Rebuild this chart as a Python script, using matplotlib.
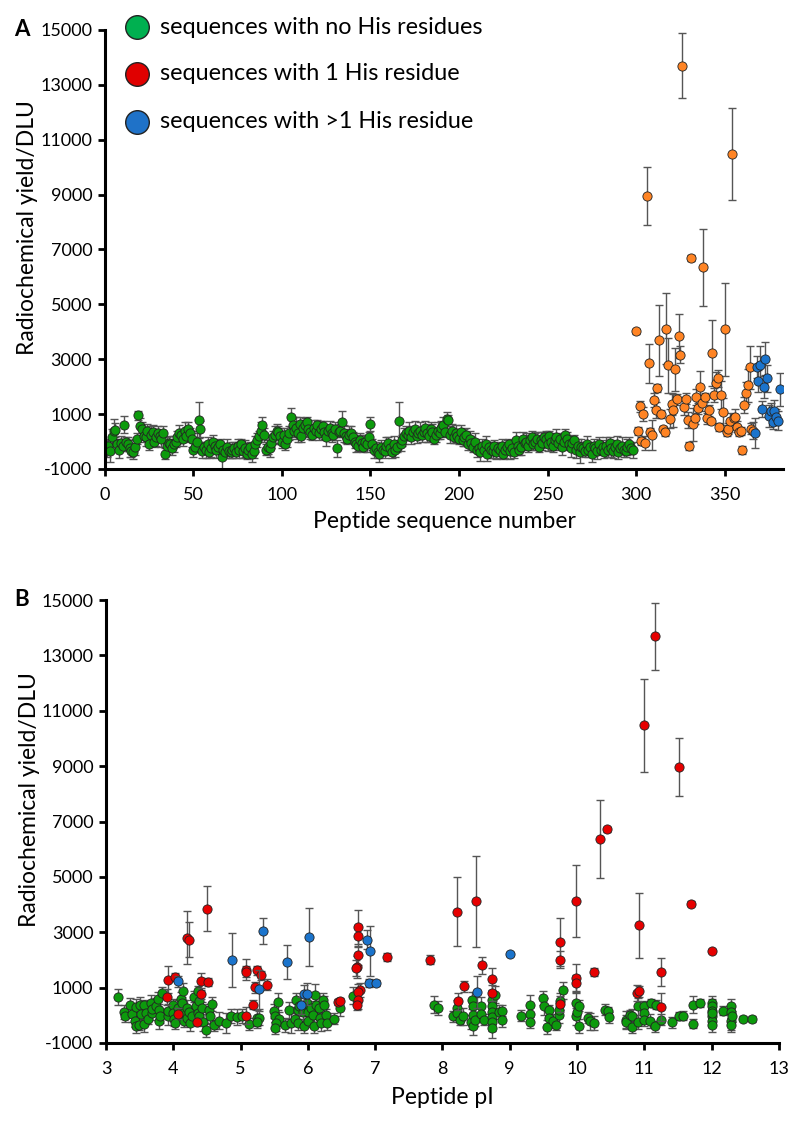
import matplotlib
matplotlib.use("Agg")
import matplotlib.pyplot as plt
from matplotlib.lines import Line2D

plt.rcParams['font.family'] = ['Lato', 'DejaVu Sans']
plt.rcParams['axes.unicode_minus'] = False

# ---------------- Panel A data ----------------
# green: sequences 1..298 (no His)
a_green_val = [
    -250, -150, -350, 150, 380, 420, -100, -300, -50, -150,
    620, -20, -100, -250, -350, -400, -200, 100, 950, 550,
    450, 200, 150, 400, -100, 250, 350, 0, 150, 300,
    200, 100, 300, -450, -150, -50, -100, -250, -100, 0,
    150, 300, 250, 100, 400, 200, 450, 300, 100, -300,
    -200, 0, 780, 450, -350, -200, -300, -100, -400, -250,
    0, -150, -300, -200, -100, -550, -300, -400, -200, -350,
    -400, -300, -250, -400, -150, -300, -100, -350, -250, -450,
    -300, -200, -450, -350, -100, 50, 200, 400, 600, 250,
    -300, -200, -250, -50, 150, 250, 400, 350, 200, 0,
    250, -100, 100, 300, 880, 600, 400, 500, 300, 650,
    200, 500, 600, 700, 450, 350, 250, 500, 400, 600,
    300, 450, 550, 350, 150, 400, 500, 300, 250, 450,
    -250, 350, 400, 710, 300, 200, 100, 250, 300, 150,
    0, -100, -150, 50, -50, -200, 0, -100, 150, 630,
    -100, -300, -250, -400, -450, -200, -300, -350, -150, -50,
    -250, -400, -100, -300, -200, 745, -100, 50, 200, 300,
    250, 400, 150, 350, 450, 200, 300, 400, 250, 350,
    500, 300, 200, 450, 350, 100, 250, 400, 300, 500,
    600, 350, 820, 780, 250, 400, 150, 300, 200, 100,
    350, 50, 150, 250, -100, 100, -50, -200, 0, -300,
    -250, -400, -150, -300, -100, -450, -200, -300, -350, -150,
    -400, -250, -300, -150, -450, -300, -200, -100, -350, -250,
    -400, 50, -150, -300, -200, 100, -50, 0, -150, 50,
    150, -100, 0, 100, -200, 50, -50, 150, 100, -100,
    200, 0, -150, 50, 150, -50, 100, -200, 0, 250,
    100, -100, -250, -50, 50, -300, -150, -400, -200, -250,
    -350, -100, -300, -200, -450, -150, -250, -350, -100, -300,
    -200, -400, -150, -300, -50, -250, -350, -200, -100, -400,
    -250, -150, -300, -350, -200, -100, -250, -300,
]
a_green_err = [
    300, 250, 400, 300, 450, 250, 200, 300, 250, 200,
    300, 200, 250, 300, 200, 250, 300, 200, 150, 300,
    250, 200, 300, 250, 200, 300, 250, 200, 300, 250,
    200, 300, 250, 200, 300, 250, 200, 250, 300, 200,
    250, 300, 200, 250, 300, 200, 250, 200, 300, 250,
    200, 300, 650, 300, 250, 200, 300, 250, 200, 300,
    250, 200, 300, 250, 200, 450, 250, 200, 300, 250,
    200, 300, 250, 200, 250, 300, 200, 250, 300, 200,
    250, 200, 300, 250, 300, 250, 200, 300, 300, 250,
    200, 250, 300, 200, 250, 300, 250, 200, 300, 250,
    250, 200, 300, 250, 350, 300, 250, 400, 300, 250,
    200, 300, 250, 200, 300, 250, 200, 300, 250, 200,
    250, 300, 200, 250, 300, 200, 250, 300, 200, 250,
    300, 200, 250, 400, 300, 250, 200, 300, 250, 200,
    250, 300, 200, 250, 300, 200, 250, 300, 200, 250,
    200, 300, 250, 200, 300, 250, 200, 250, 300, 200,
    250, 200, 300, 250, 200, 700, 250, 200, 300, 250,
    200, 300, 250, 200, 300, 250, 200, 300, 250, 200,
    250, 300, 200, 250, 300, 200, 250, 300, 200, 250,
    300, 200, 250, 200, 300, 250, 200, 300, 250, 200,
    250, 200, 300, 250, 200, 300, 250, 200, 300, 250,
    200, 300, 250, 200, 300, 250, 200, 300, 250, 200,
    250, 200, 300, 250, 200, 300, 250, 200, 300, 250,
    200, 300, 250, 200, 300, 250, 200, 300, 250, 200,
    250, 200, 300, 250, 200, 300, 250, 200, 300, 250,
    200, 300, 250, 200, 300, 250, 200, 300, 250, 200,
    250, 200, 300, 250, 200, 300, 250, 400, 300, 250,
    200, 300, 250, 200, 300, 250, 200, 300, 250, 200,
    250, 200, 300, 250, 200, 300, 250, 200, 300, 250,
    200, 300, 250, 200, 300, 250, 200, 300,
]
a_green_seq = list(range(1, len(a_green_val) + 1))

# orange: sequences with 1 His (300..366)
a_orange_seq = list(range(300, 367))
a_orange_val = [
    4018, 382, 1291, 18, 1011, -55, 8952, 2844, 345, 247,
    1509, 1145, 1956, 3691, 989, 465, 345, 4116, 2771, 829,
    1353, 1145, 2625, 1535, 3836, 3171, 13702, 1255, 1556, 782,
    -153, 6684, 625, 855, 1618, 1207, 1982, 1411, 6356, 1607,
    855, 1145, 745, 3218, 1691, 2116, 2298, 516, 1702, 1084,
    4091, 345, 465, 734, 10480, 855, 891, 538, 345, 393,
    -320, 1327, 1775, 2055, 2698, 465, 393,
]
a_orange_err = [
    100, 150, 200, 150, 250, 250, 1050, 700, 150, 550,
    250, 300, 150, 1300, 150, 100, 150, 1300, 1000, 350,
    400, 600, 800, 200, 800, 300, 1200, 300, 200, 300,
    150, 100, 600, 200, 300, 200, 600, 300, 1400, 150,
    200, 200, 100, 1200, 250, 400, 300, 150, 500, 500,
    1700, 150, 200, 300, 1680, 150, 300, 200, 150, 150,
    150, 300, 400, 600, 800, 200, 300,
]
# blue: sequences with >1 His (367..381)
a_blue_seq = list(range(367, 382))
a_blue_val = [320, 2720, 2189, 2771, 1193, 1971, 3011, 2298, 927, 1120,
              709, 1120, 902, 756, 1909]
a_blue_err = [550, 400, 400, 700, 300, 400, 600, 500, 400, 300,
              250, 400, 300, 350, 600]

# ---------------- Panel B data ----------------
b_green_pi = [
    3.18, 3.27, 3.28, 3.35, 3.39, 3.43, 3.44, 3.44, 3.49, 3.50,
    3.52, 3.56, 3.57, 3.59, 3.62, 3.67, 3.68, 3.69, 3.75, 3.78,
    3.79, 3.79, 3.80, 3.83, 3.92, 3.92, 4.00, 4.00, 4.01, 4.03,
    4.07, 4.12, 4.13, 4.14, 4.14, 4.16, 4.20, 4.21, 4.24, 4.25,
    4.28, 4.31, 4.34, 4.36, 4.37, 4.38, 4.38, 4.42, 4.44, 4.49,
    4.53, 4.55, 4.58, 4.61, 4.68, 4.79, 4.86, 4.94, 5.02, 5.12,
    5.24, 5.28, 5.24, 5.50, 5.55, 5.51, 5.57, 5.52, 5.51, 5.66,
    5.72, 5.75, 5.81, 5.83, 5.85, 5.85, 5.87, 5.93, 5.95, 5.99,
    6.00, 6.00, 6.04, 6.07, 6.09, 6.10, 6.12, 6.17, 6.18, 6.20,
    6.23, 6.24, 6.27, 6.28, 6.39, 6.48, 6.67,
    7.87, 7.94, 8.16, 8.22, 8.22, 8.26, 8.31, 8.42, 8.44, 8.45,
    8.45, 8.45, 8.49, 8.57, 8.58, 8.62, 8.74, 8.74, 8.74, 8.74,
    8.74, 8.74, 8.78, 8.84, 8.89, 8.89, 9.17, 9.30, 9.30, 9.30,
    9.50, 9.51, 9.55, 9.59, 9.59, 9.65, 9.69, 9.74, 9.74, 9.75,
    9.79, 9.98, 9.99, 10.00, 10.03, 10.03, 10.17, 10.20, 10.25, 10.42,
    10.46, 10.47, 10.73, 10.73, 10.79, 10.82, 10.82, 10.90, 10.90, 10.99,
    10.99, 10.99, 11.09, 11.10, 11.16, 11.17, 11.25, 11.42, 11.51, 11.58,
    11.72, 11.72, 11.83, 12.00, 12.00, 12.00, 12.00, 12.00, 12.00, 12.00,
    12.17, 12.29, 12.29, 12.29, 12.29, 12.31, 12.47, 12.60,
]
b_green_val = [
    663, 109, -36, 386, 60, -217, 289, -397, -337, 362,
    60, 362, -301, 84, -132, 446, 84, 229, 325, 591,
    205, -205, -36, 808, -36, 145, 386, 84, -132, -277,
    265, 591, 446, 868, 84, -217, 265, -96, 109, -277,
    -36, 663, 325, 84, 868, 506, -36, 265, -253, -518,
    205, -12, 410, -361, -193, -277, -36, -60, -36, -313,
    -96, -96, -253, 157, 494, -36, -132, -277, -458, -361,
    181, -277, -132, 566, 181, -277, 325, 109, -397, 446,
    109, -217, 265, 24, -397, 747, 386, 265, -96, -277,
    542, 386, 24, -277, -132, 265, 711,
    386, 265, -36, 265, 84, -156, -36, -253, 542, 325,
    24, -397, -181, 350, 60, -156, 566, 325, 109, -60,
    -253, -458, 747, 109, 169, -156, -12, 386, 60, -253,
    615, 325, -434, 181, -96, -217, -337, 24, 205, 506,
    904, 446, -36, 109, 350, -397, -96, -217, -277, 205,
    145, -72, -156, -253, 0, -12, -434, 325, -253, 325,
    84, -181, -217, 446, -397, 386, -156, -253, -36, -12,
    386, -301, 446, 446, 325, 145, -36, -217, -337, 84,
    169, 350, 109, -217, -361, -36, -120, -132,
]
b_green_err = [
    300, 250, 200, 250, 300, 200, 300, 250, 200, 300,
    250, 200, 300, 250, 200, 300, 250, 200, 300, 250,
    200, 300, 250, 200, 300, 250, 200, 300, 250, 200,
    300, 250, 200, 300, 250, 200, 300, 250, 200, 300,
    250, 200, 300, 250, 200, 300, 250, 200, 300, 250,
    200, 300, 250, 200, 300, 350, 250, 300, 250, 200,
    300, 250, 200, 250, 300, 200, 250, 300, 200, 250,
    300, 350, 200, 250, 300, 250, 200, 300, 250, 350,
    300, 200, 250, 300, 250, 400, 300, 250, 200, 300,
    250, 300, 200, 250, 200, 300, 300,
    300, 250, 200, 300, 250, 200, 300, 250, 300, 350,
    250, 300, 200, 300, 250, 200, 300, 250, 300, 250,
    300, 350, 300, 250, 200, 250, 200, 350, 250, 200,
    250, 300, 250, 200, 300, 250, 200, 300, 250, 300,
    300, 350, 300, 250, 200, 250, 200, 300, 250, 200,
    150, 200, 300, 250, 200, 250, 200, 300, 250, 200,
    250, 200, 250, 150, 200, 150, 200, 200, 150, 150,
    300, 150, 150, 250, 250, 300, 250, 200, 250, 200,
    150, 250, 200, 300, 250, 200, 100, 100,
]

b_red_pi = [
    4.50, 4.20, 4.24, 3.92, 4.02, 3.91, 4.07, 4.41, 4.52, 4.41,
    4.35, 5.08, 5.08, 5.24, 5.30, 5.21, 5.18, 5.08, 5.40, 6.74,
    6.74, 6.75, 6.73, 6.71, 6.78, 6.74, 6.74, 6.73, 7.17, 7.82,
    6.45, 6.48, 8.22, 8.50, 8.23, 8.32, 8.59, 8.74, 8.74, 9.75,
    9.75, 9.75, 9.99, 9.99, 9.99, 10.25, 10.34, 10.45, 10.99, 11.16,
    11.51, 11.70, 12.00, 10.92, 10.89, 10.92, 11.25, 11.25,
]
b_red_val = [
    3856, 2796, 2736, 1290, 1386, 663, 60, 1229, 1193, 771,
    -253, 1651, 1567, 1627, 1446, 1012, 386, -12, 1109, 3193,
    2856, 2169, 1735, 1711, 904, 844, 542, 386, 2097, 2012,
    482, 506, 3736, 4121, 506, 1049, 1808, 1326, 808, 2651,
    2012, 410, 4145, 1350, 1169, 1567, 6375, 6712, 10472, 13689,
    8965, 4037, 2338, 3254, 808, 868, 1555, 289,
]
b_red_err = [
    800, 960, 640, 500, 150, 300, 200, 300, 150, 200,
    150, 370, 200, 160, 170, 200, 150, 300, 200, 600,
    400, 350, 400, 300, 250, 300, 300, 200, 150, 150,
    120, 120, 1250, 1650, 300, 200, 300, 400, 300, 870,
    300, 300, 1300, 500, 300, 150, 1400, 100, 1690, 1200,
    1050, 100, 50, 1170, 300, 200, 500, 500,
]

b_blue_pi = [4.07, 4.87, 5.34, 5.69, 6.01, 5.27, 5.94, 5.99, 5.90, 6.88,
             6.92, 6.91, 7.01, 9.00, 8.51]
b_blue_val = [1229, 2000, 3037, 1928, 2820, 940, 783, 759, 362, 2736,
              2314, 1157, 1169, 2217, 832]
b_blue_err = [200, 980, 470, 600, 1050, 700, 300, 400, 300, 350,
              900, 150, 100, 80, 580]

# ---------------- styling ----------------
GREEN = '#0d9a0d'
ORANGE = '#ff8424'
RED = '#e60000'
BLUE = '#1b74cc'
LEG_GREEN = '#00b050'
LEG_RED = '#e00000'
LEG_BLUE = '#1f72c8'
ERRC = '#555555'
MS = 44

fig = plt.figure(figsize=(8.0, 11.3), dpi=100)
axA = fig.add_axes([0.131, 0.585, 0.848, 0.3885])
axB = fig.add_axes([0.1325, 0.077, 0.841, 0.392])


def draw(ax, x, y, e, color, z):
    ax.errorbar(x, y, yerr=e, fmt='none', ecolor=ERRC, elinewidth=1.0,
                capsize=3.0, capthick=1.0, zorder=z)
    ax.scatter(x, y, s=MS, c=color, edgecolors='#222222', linewidths=0.6,
               zorder=z + 0.5)


draw(axA, a_green_seq, a_green_val, a_green_err, GREEN, 2)
draw(axA, a_orange_seq, a_orange_val, a_orange_err, ORANGE, 3)
draw(axA, a_blue_seq, a_blue_val, a_blue_err, BLUE, 4)

draw(axB, b_green_pi, b_green_val, b_green_err, GREEN, 2)
draw(axB, b_red_pi, b_red_val, b_red_err, RED, 3)
draw(axB, b_blue_pi, b_blue_val, b_blue_err, BLUE, 4)

yticks = list(range(-1000, 15001, 2000))
for ax in (axA, axB):
    ax.set_ylim(-1000, 15000)
    ax.set_yticks(yticks)
    for s in ('top', 'right'):
        ax.spines[s].set_visible(False)
    for s in ('left', 'bottom'):
        ax.spines[s].set_linewidth(2.2)
    ax.tick_params(axis='both', direction='out', length=5, width=2.0,
                   labelsize=13, pad=4)
    ax.tick_params(axis='x', pad=8)
    ax.set_ylabel('Radiochemical yield/DLU', fontsize=16.5)
    ax.yaxis.set_label_coords(-0.098, 0.55)

axA.set_xlim(0, 383)
axA.set_xticks(list(range(0, 351, 50)))
axA.set_xlabel('Peptide sequence number', fontsize=16.5, labelpad=6)

axB.set_xlim(3, 13)
axB.set_xticks(list(range(3, 14)))
axB.set_xlabel('Peptide pI', fontsize=16.5, labelpad=7)

# panel letters
fig.text(0.027, 1 - 30 / 1130, 'A', fontsize=16, fontweight='bold',
         ha='center', va='center')
fig.text(0.027, 1 - 600 / 1130, 'B', fontsize=16, fontweight='bold',
         ha='center', va='center')

# legend (manual)
leg_labels = ['sequences with no His residues', 'sequences with 1 His residue',
              'sequences with >1 His residue']
leg_colors = [LEG_GREEN, LEG_RED, LEG_BLUE]
leg_y = [27, 74, 122]
for lab, col, yy in zip(leg_labels, leg_colors, leg_y):
    fy = 1 - yy / 1130
    fig.add_artist(Line2D([137 / 800], [fy], marker='o', markersize=17,
                          markerfacecolor=col, markeredgecolor='#222222',
                          markeredgewidth=1.0, linestyle='none',
                          transform=fig.transFigure))
    fig.text(160 / 800, fy, lab, fontsize=16.8, ha='left', va='center')

fig.savefig('out.png', dpi=100)
